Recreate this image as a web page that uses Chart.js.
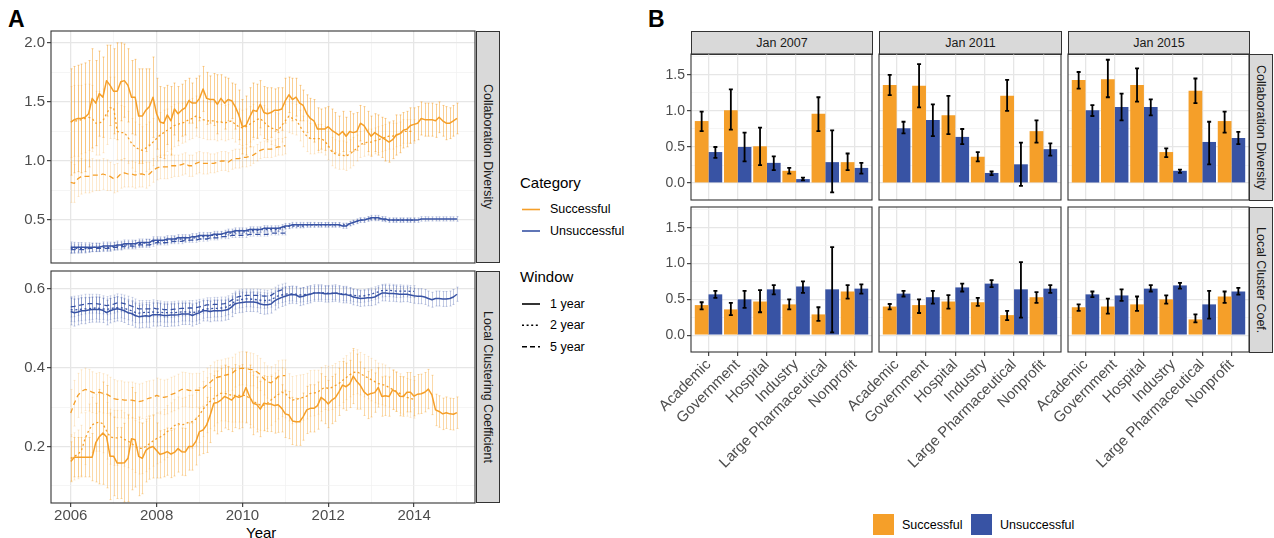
<!DOCTYPE html>
<html><head><meta charset="utf-8">
<script src="https://cdn.jsdelivr.net/npm/chart.js@4.4.1/dist/chart.umd.min.js"></script>
<style>
html,body{margin:0;padding:0;background:#fff;}
#wrap{position:relative;width:1274px;height:538px;overflow:hidden;font-family:'Liberation Sans',Arial,Helvetica,sans-serif;}
#wrap canvas{position:absolute;}
.strip{position:absolute;background:#D9D9D9;border:1px solid #333;box-sizing:border-box;color:#1A1A1A;font-size:12.5px;display:flex;align-items:center;justify-content:center;white-space:nowrap;}
.vt{writing-mode:vertical-rl;}
.t{position:absolute;white-space:nowrap;line-height:1;}
.sq{position:absolute;width:21px;height:21px;}
</style></head>
<body><div id="wrap">
<div class="t" style="left:8px;top:8px;font-size:23px;font-weight:bold;color:#000">A</div>
<div class="t" style="left:648px;top:8px;font-size:23px;font-weight:bold;color:#000">B</div>
<div class="strip vt" style="left:476px;top:31px;width:24px;height:232px;">Collaboration Diversity</div>
<div class="strip vt" style="left:476px;top:271px;width:24px;height:232px;">Local Clustering Coefficient</div>
<div class="t" style="left:246px;top:525px;font-size:15px;color:#000">Year</div>
<div class="t" style="left:520px;top:175px;font-size:15px;color:#000">Category</div>
<svg style="position:absolute;left:520px;top:200px" width="24" height="40"><line x1="2" y1="9.5" x2="20" y2="9.5" stroke="#F59F29" stroke-width="1.6"/><line x1="2" y1="31" x2="20" y2="31" stroke="#3853A4" stroke-width="1.6"/></svg>
<div class="t" style="left:550px;top:203px;font-size:12.5px;color:#000">Successful</div>
<div class="t" style="left:550px;top:224.5px;font-size:12.5px;color:#000">Unsuccessful</div>
<div class="t" style="left:520px;top:269px;font-size:15px;color:#000">Window</div>
<svg style="position:absolute;left:520px;top:295px" width="24" height="60"><line x1="2" y1="9" x2="20" y2="9" stroke="#000" stroke-width="1.6"/><line x1="2" y1="30.3" x2="20" y2="30.3" stroke="#000" stroke-width="1.4" stroke-dasharray="2 2.6"/><line x1="2" y1="51.7" x2="20" y2="51.7" stroke="#000" stroke-width="1.4" stroke-dasharray="5 3"/></svg>
<div class="t" style="left:550px;top:297.5px;font-size:12.5px;color:#000">1 year</div>
<div class="t" style="left:550px;top:319px;font-size:12.5px;color:#000">2 year</div>
<div class="t" style="left:550px;top:340.5px;font-size:12.5px;color:#000">5 year</div>
<div class="strip" style="left:691px;top:31px;width:182px;height:24px;">Jan 2007</div>
<div class="strip" style="left:879px;top:31px;width:183px;height:24px;">Jan 2011</div>
<div class="strip" style="left:1068px;top:31px;width:182px;height:24px;">Jan 2015</div>
<div class="strip vt" style="left:1249px;top:54px;width:24px;height:147px;">Collaboration Diversity</div>
<div class="strip vt" style="left:1249px;top:207px;width:24px;height:146px;">Local Cluster Coef.</div>
<div class="sq" style="left:873px;top:514px;background:#F59F29"></div>
<div class="t" style="left:902px;top:518.5px;font-size:12.5px;color:#000">Successful</div>
<div class="sq" style="left:971px;top:514px;background:#3853A4"></div>
<div class="t" style="left:1000px;top:518.5px;font-size:12.5px;color:#000">Unsuccessful</div>
</div>
<script>
// ---------- Panel A data (monthly, starting Jan 2006) ----------
const startYear = 2006;
const cdSucc1 = [1.33,1.35,1.36,1.36,1.37,1.40,1.53,1.49,1.57,1.54,1.68,1.64,
1.59,1.59,1.67,1.68,1.64,1.54,1.54,1.38,1.38,1.43,1.46,1.54,
1.40,1.33,1.32,1.39,1.34,1.44,1.40,1.43,1.45,1.51,1.49,1.49,
1.53,1.61,1.53,1.52,1.52,1.48,1.53,1.49,1.52,1.51,1.46,1.39,
1.29,1.30,1.37,1.43,1.42,1.48,1.41,1.40,1.41,1.43,1.43,1.44,
1.51,1.56,1.52,1.54,1.49,1.47,1.40,1.36,1.34,1.27,1.27,1.27,
1.29,1.26,1.24,1.22,1.25,1.21,1.25,1.24,1.25,1.32,1.30,1.25,
1.21,1.24,1.22,1.20,1.18,1.16,1.18,1.22,1.23,1.26,1.27,1.30,
1.31,1.32,1.36,1.35,1.35,1.35,1.34,1.37,1.34,1.32,1.32,1.34,1.36];
const cdSucc2 = [1.33,1.34,1.34,1.35,1.36,1.37,1.36,1.32,1.32,1.34,1.40,1.45,
1.45,1.25,1.24,1.24,1.20,1.15,1.12,1.10,1.09,1.11,1.13,1.16,
1.19,1.22,1.24,1.26,1.28,1.30,1.31,1.32,1.33,1.35,1.36,1.38,
1.37,1.35,1.34,1.34,1.34,1.33,1.33,1.32,1.33,1.34,1.31,1.29,
1.28,1.29,1.31,1.33,1.35,1.36,1.33,1.30,1.28,1.27,1.26,1.30,
1.34,1.38,1.36,1.35,1.30,1.25,1.21,1.19,1.19,1.19,1.19,1.17,
1.13,1.08,1.06,1.05,1.05,1.04,1.06,1.08,1.11,1.14,1.15,1.16,
1.16,1.17,1.18,1.19,1.20,1.21,1.21,1.22,1.23,1.25,1.25,1.25,1.25];
const cdSucc5 = [0.82,0.81,0.85,0.87,0.87,0.87,0.88,0.88,0.88,0.89,0.88,0.87,
0.85,0.86,0.89,0.90,0.89,0.89,0.88,0.89,0.89,0.88,0.89,0.92,
0.94,0.95,0.95,0.95,0.96,0.96,0.96,0.97,0.98,0.96,0.96,0.98,
0.99,0.98,0.98,0.98,0.98,0.99,1.00,1.00,0.99,1.01,1.02,1.02,
1.03,1.03,1.04,1.05,1.07,1.09,1.10,1.10,1.10,1.11,1.12,1.12,1.13];
const cdUns1 = [0.27,0.27,0.27,0.27,0.27,0.27,0.27,0.27,0.27,0.28,0.28,0.28,
0.28,0.29,0.29,0.30,0.30,0.30,0.30,0.31,0.31,0.31,0.31,0.33,
0.33,0.33,0.33,0.34,0.34,0.34,0.35,0.35,0.35,0.35,0.36,0.36,
0.37,0.37,0.37,0.37,0.38,0.38,0.38,0.39,0.40,0.40,0.41,0.41,
0.41,0.41,0.42,0.42,0.42,0.42,0.43,0.43,0.43,0.43,0.43,0.44,
0.45,0.45,0.46,0.46,0.46,0.46,0.46,0.46,0.46,0.46,0.46,0.46,
0.46,0.46,0.46,0.46,0.45,0.45,0.47,0.48,0.49,0.50,0.50,0.51,
0.52,0.52,0.52,0.51,0.51,0.50,0.50,0.50,0.50,0.50,0.50,0.50,
0.50,0.50,0.51,0.51,0.51,0.51,0.51,0.51,0.51,0.51,0.51,0.51,0.51];
const cdUns2 = [0.26,0.26,0.26,0.26,0.26,0.26,0.27,0.27,0.27,0.27,0.27,0.27,
0.28,0.28,0.28,0.29,0.29,0.29,0.30,0.30,0.30,0.31,0.31,0.32,
0.32,0.32,0.33,0.33,0.33,0.34,0.34,0.34,0.34,0.35,0.35,0.35,
0.36,0.36,0.36,0.37,0.37,0.37,0.38,0.38,0.39,0.39,0.40,0.40,
0.40,0.40,0.41,0.41,0.41,0.42,0.42,0.42,0.42,0.42,0.42,0.43,
0.44,0.45,0.45,0.45,0.45,0.45,0.46,0.46,0.46,0.46,0.46,0.46,
0.46,0.46,0.46,0.46,0.46,0.46,0.47,0.48,0.49,0.50,0.50,0.51,
0.51,0.51,0.51,0.51,0.50,0.50,0.50,0.50,0.50,0.50,0.50,0.50,0.50];
const cdUns5 = [0.25,0.25,0.25,0.25,0.25,0.26,0.26,0.26,0.26,0.26,0.26,0.26,
0.27,0.27,0.27,0.28,0.28,0.28,0.28,0.29,0.29,0.29,0.29,0.30,
0.31,0.31,0.31,0.31,0.32,0.32,0.32,0.32,0.33,0.33,0.33,0.33,
0.34,0.34,0.34,0.35,0.35,0.35,0.36,0.36,0.36,0.37,0.37,0.37,
0.37,0.37,0.38,0.38,0.38,0.38,0.38,0.38,0.39,0.39,0.39,0.39,0.39];

const cdSuccErr1 = [0.45,0.45,0.45,0.46,0.46,0.45,0.42,0.36,0.36,0.34,0.30,0.34,
0.36,0.41,0.33,0.31,0.31,0.31,0.32,0.40,0.40,0.35,0.32,0.34,
0.30,0.30,0.30,0.25,0.29,0.22,0.23,0.22,0.23,0.19,0.17,0.21,
0.19,0.19,0.22,0.20,0.22,0.25,0.20,0.22,0.18,0.15,0.19,0.21,
0.23,0.25,0.25,0.23,0.23,0.20,0.22,0.22,0.21,0.18,0.19,0.18,
0.19,0.15,0.18,0.16,0.15,0.13,0.16,0.17,0.18,0.18,0.17,0.18,
0.17,0.18,0.17,0.16,0.17,0.16,0.17,0.16,0.16,0.15,0.16,0.17,
0.17,0.16,0.17,0.17,0.18,0.17,0.16,0.17,0.16,0.15,0.15,0.15,
0.14,0.14,0.14,0.14,0.14,0.14,0.14,0.13,0.13,0.14,0.13,0.13,0.13];
const cdSuccErr2 = [0.30,0.30,0.30,0.29,0.29,0.28,0.28,0.27,0.27,0.27,0.26,0.26,
0.26,0.24,0.23,0.22,0.22,0.21,0.21,0.21,0.20,0.20,0.20,0.20,
0.19,0.19,0.19,0.18,0.18,0.18,0.18,0.17,0.17,0.17,0.17,0.17,
0.17,0.16,0.16,0.16,0.16,0.16,0.15,0.15,0.15,0.15,0.15,0.15,
0.15,0.15,0.15,0.15,0.15,0.14,0.14,0.14,0.14,0.14,0.14,0.14,
0.14,0.14,0.13,0.13,0.13,0.13,0.13,0.13,0.13,0.12,0.12,0.12,
0.12,0.12,0.12,0.12,0.12,0.12,0.12,0.12,0.11,0.11,0.11,0.11,
0.11,0.11,0.11,0.11,0.11,0.11,0.11,0.10,0.10,0.10,0.10,0.10,0.10];
const cdSuccErr5 = [0.17,0.16,0.15,0.15,0.14,0.14,0.14,0.13,0.13,0.13,0.13,0.12,
0.12,0.12,0.12,0.12,0.11,0.11,0.11,0.11,0.11,0.11,0.10,0.10,
0.10,0.10,0.10,0.10,0.10,0.09,0.09,0.09,0.09,0.09,0.09,0.09,
0.09,0.09,0.09,0.08,0.08,0.08,0.08,0.08,0.08,0.08,0.08,0.08,
0.08,0.08,0.08,0.07,0.07,0.07,0.07,0.07,0.07,0.07,0.07,0.07,0.07];
const cdUnsErr1 = [0.045,0.042,0.040,0.040,0.038,0.038,0.036,0.036,0.035,0.035,0.034,0.034,
0.033,0.033,0.032,0.032,0.031,0.031,0.030,0.030,0.030,0.030,0.029,0.029,
0.029,0.028,0.028,0.028,0.028,0.027,0.027,0.027,0.027,0.026,0.026,0.026,
0.026,0.026,0.025,0.025,0.025,0.025,0.025,0.024,0.024,0.024,0.024,0.024,
0.024,0.023,0.023,0.023,0.023,0.023,0.023,0.022,0.022,0.022,0.022,0.022,
0.022,0.022,0.021,0.021,0.021,0.021,0.021,0.021,0.021,0.020,0.020,0.020,
0.020,0.020,0.020,0.020,0.020,0.020,0.020,0.020,0.020,0.020,0.020,0.020,
0.020,0.020,0.020,0.020,0.019,0.019,0.019,0.019,0.019,0.019,0.019,0.019,
0.019,0.019,0.019,0.019,0.018,0.018,0.018,0.018,0.018,0.018,0.018,0.018,0.020];
const cdUnsErr2 = [0.040,0.038,0.037,0.036,0.035,0.034,0.033,0.033,0.032,0.032,0.031,0.031,
0.030,0.030,0.029,0.029,0.028,0.028,0.027,0.027,0.027,0.026,0.026,0.026,
0.025,0.025,0.025,0.024,0.024,0.024,0.024,0.023,0.023,0.023,0.023,0.022,
0.022,0.022,0.022,0.022,0.021,0.021,0.021,0.021,0.021,0.020,0.020,0.020,
0.020,0.020,0.020,0.019,0.019,0.019,0.019,0.019,0.019,0.018,0.018,0.018,
0.018,0.018,0.018,0.018,0.017,0.017,0.017,0.017,0.017,0.017,0.017,0.017,
0.017,0.016,0.016,0.016,0.016,0.016,0.016,0.016,0.016,0.016,0.016,0.016,
0.016,0.016,0.015,0.015,0.015,0.015,0.015,0.015,0.015,0.015,0.015,0.015,0.015];
const cdUnsErr5 = [0.032,0.031,0.030,0.029,0.029,0.028,0.028,0.027,0.027,0.026,0.026,0.025,
0.025,0.025,0.024,0.024,0.024,0.023,0.023,0.023,0.022,0.022,0.022,0.022,
0.021,0.021,0.021,0.021,0.020,0.020,0.020,0.020,0.020,0.019,0.019,0.019,
0.019,0.019,0.018,0.018,0.018,0.018,0.018,0.018,0.017,0.017,0.017,0.017,
0.017,0.017,0.017,0.016,0.016,0.016,0.016,0.016,0.016,0.016,0.016,0.016,0.016];

const lcSucc1 = [0.162,0.173,0.173,0.173,0.173,0.173,0.173,0.210,0.225,0.234,0.225,0.175,
0.175,0.158,0.158,0.159,0.170,0.220,0.217,0.175,0.170,0.190,0.197,0.200,
0.190,0.180,0.183,0.187,0.181,0.185,0.195,0.187,0.186,0.200,0.200,0.213,
0.238,0.242,0.255,0.280,0.310,0.312,0.318,0.327,0.323,0.318,0.328,0.325,
0.328,0.350,0.327,0.310,0.307,0.295,0.310,0.308,0.308,0.304,0.306,0.297,
0.283,0.280,0.265,0.263,0.263,0.276,0.293,0.297,0.297,0.304,0.325,0.318,
0.308,0.318,0.324,0.339,0.356,0.352,0.359,0.379,0.365,0.355,0.339,0.331,
0.335,0.337,0.350,0.327,0.329,0.327,0.344,0.339,0.328,0.327,0.338,0.338,
0.328,0.333,0.334,0.338,0.346,0.331,0.293,0.289,0.283,0.286,0.283,0.282,0.286];
const lcSucc2 = [0.170,0.175,0.180,0.190,0.220,0.240,0.255,0.260,0.262,0.258,0.240,0.225,
0.222,0.222,0.224,0.218,0.214,0.208,0.200,0.196,0.195,0.200,0.207,0.214,
0.220,0.224,0.230,0.238,0.245,0.253,0.258,0.255,0.257,0.262,0.263,0.270,
0.280,0.295,0.305,0.315,0.322,0.330,0.335,0.335,0.333,0.330,0.330,0.330,
0.330,0.330,0.322,0.315,0.310,0.305,0.305,0.310,0.318,0.325,0.332,0.338,
0.335,0.325,0.318,0.320,0.322,0.325,0.328,0.335,0.336,0.338,0.345,0.350,
0.348,0.350,0.355,0.360,0.368,0.375,0.382,0.388,0.390,0.385,0.380,0.375,
0.370,0.365,0.360,0.358,0.355,0.350,0.345,0.340,0.335,0.330,0.325,0.322,0.320];
const lcSucc5 = [0.285,0.310,0.330,0.340,0.345,0.343,0.338,0.335,0.338,0.335,0.333,0.328,
0.322,0.320,0.320,0.318,0.318,0.318,0.316,0.314,0.316,0.320,0.323,0.325,
0.330,0.327,0.325,0.327,0.332,0.335,0.340,0.345,0.345,0.343,0.342,0.343,
0.343,0.348,0.356,0.363,0.372,0.376,0.378,0.381,0.383,0.385,0.393,0.398,
0.399,0.398,0.396,0.395,0.390,0.383,0.372,0.364,0.362,0.368,0.378,0.380,0.380];
const lcUns1 = [0.543,0.540,0.542,0.545,0.545,0.547,0.548,0.548,0.548,0.546,0.540,0.545,
0.548,0.550,0.548,0.545,0.540,0.538,0.533,0.530,0.531,0.532,0.531,0.535,
0.535,0.535,0.533,0.533,0.534,0.534,0.535,0.537,0.537,0.537,0.533,0.537,
0.540,0.545,0.545,0.543,0.545,0.545,0.545,0.546,0.548,0.555,0.563,0.565,
0.566,0.567,0.567,0.567,0.566,0.562,0.560,0.560,0.562,0.570,0.575,0.579,
0.582,0.585,0.586,0.585,0.580,0.582,0.585,0.587,0.590,0.590,0.590,0.588,
0.588,0.589,0.590,0.588,0.586,0.586,0.584,0.580,0.578,0.576,0.577,0.578,
0.578,0.580,0.585,0.590,0.590,0.589,0.589,0.588,0.587,0.587,0.587,0.585,
0.583,0.582,0.582,0.580,0.576,0.573,0.576,0.576,0.575,0.575,0.576,0.580,0.587];
const lcUns2 = [0.548,0.547,0.548,0.549,0.550,0.550,0.551,0.552,0.551,0.550,0.548,0.550,
0.552,0.553,0.553,0.551,0.548,0.545,0.541,0.539,0.540,0.541,0.541,0.542,
0.541,0.541,0.540,0.540,0.540,0.540,0.541,0.542,0.542,0.542,0.540,0.542,
0.545,0.548,0.550,0.550,0.551,0.551,0.552,0.553,0.556,0.562,0.570,0.573,
0.574,0.575,0.575,0.574,0.573,0.572,0.571,0.571,0.573,0.578,0.583,0.585,
0.587,0.588,0.588,0.587,0.585,0.586,0.587,0.588,0.590,0.591,0.591,0.590,
0.590,0.590,0.590,0.589,0.588,0.587,0.586,0.584,0.583,0.582,0.583,0.585,
0.587,0.590,0.593,0.596,0.597,0.597,0.596,0.595,0.595,0.595,0.595,0.594,0.594];
const lcUns5 = [0.555,0.556,0.558,0.560,0.562,0.563,0.563,0.563,0.562,0.560,0.558,0.560,
0.562,0.565,0.565,0.563,0.560,0.557,0.553,0.550,0.550,0.550,0.550,0.552,
0.550,0.550,0.548,0.548,0.548,0.549,0.550,0.551,0.551,0.552,0.552,0.553,
0.555,0.557,0.560,0.560,0.561,0.561,0.562,0.563,0.566,0.572,0.578,0.581,
0.583,0.584,0.584,0.584,0.584,0.583,0.582,0.582,0.584,0.590,0.595,0.598,0.600];

const lcSuccErr1 = [0.05,0.05,0.05,0.05,0.05,0.05,0.06,0.10,0.12,0.13,0.13,0.11,
0.10,0.09,0.09,0.10,0.11,0.13,0.12,0.10,0.09,0.08,0.08,0.08,
0.07,0.06,0.06,0.06,0.06,0.06,0.06,0.06,0.06,0.06,0.06,0.06,
0.06,0.06,0.07,0.07,0.07,0.08,0.08,0.08,0.08,0.08,0.08,0.08,
0.08,0.09,0.08,0.08,0.07,0.07,0.07,0.07,0.07,0.07,0.07,0.06,
0.06,0.06,0.06,0.06,0.06,0.06,0.06,0.06,0.06,0.06,0.06,0.06,
0.06,0.06,0.06,0.06,0.06,0.06,0.06,0.07,0.07,0.06,0.06,0.06,
0.06,0.05,0.05,0.05,0.05,0.05,0.05,0.05,0.05,0.05,0.05,0.05,
0.05,0.05,0.05,0.05,0.05,0.05,0.04,0.04,0.04,0.04,0.04,0.04,0.04];
const lcSuccErr2 = [0.060,0.060,0.062,0.064,0.066,0.068,0.070,0.072,0.074,0.074,0.072,0.070,
0.070,0.070,0.068,0.068,0.068,0.066,0.066,0.066,0.064,0.064,0.064,0.064,
0.064,0.064,0.064,0.066,0.066,0.066,0.068,0.068,0.068,0.068,0.068,0.068,
0.070,0.070,0.070,0.070,0.070,0.070,0.070,0.070,0.070,0.068,0.068,0.068,
0.068,0.068,0.066,0.066,0.066,0.064,0.064,0.064,0.064,0.062,0.062,0.062,
0.062,0.060,0.060,0.060,0.060,0.058,0.058,0.058,0.058,0.056,0.056,0.056,
0.056,0.056,0.056,0.056,0.056,0.056,0.056,0.056,0.056,0.054,0.054,0.054,
0.054,0.054,0.052,0.052,0.052,0.050,0.050,0.050,0.050,0.048,0.048,0.048,0.048];
const lcSuccErr5 = [0.060,0.058,0.056,0.055,0.054,0.053,0.052,0.051,0.050,0.050,0.049,0.048,
0.048,0.047,0.047,0.046,0.046,0.046,0.045,0.045,0.045,0.045,0.044,0.044,
0.044,0.044,0.044,0.044,0.044,0.044,0.044,0.044,0.043,0.043,0.043,0.043,
0.043,0.043,0.043,0.043,0.043,0.043,0.042,0.042,0.042,0.042,0.042,0.042,
0.042,0.042,0.042,0.041,0.041,0.041,0.041,0.041,0.041,0.040,0.040,0.040,0.040];
const lcUnsErr1 = [0.034,0.034,0.033,0.033,0.033,0.032,0.032,0.032,0.032,0.031,0.031,0.031,
0.031,0.031,0.030,0.030,0.030,0.030,0.030,0.029,0.029,0.029,0.029,0.029,
0.029,0.028,0.028,0.028,0.028,0.028,0.028,0.027,0.027,0.027,0.027,0.027,
0.027,0.026,0.026,0.026,0.026,0.026,0.026,0.025,0.025,0.025,0.025,0.025,
0.025,0.024,0.024,0.024,0.024,0.024,0.024,0.023,0.023,0.023,0.023,0.023,
0.023,0.022,0.022,0.022,0.022,0.022,0.022,0.022,0.021,0.021,0.021,0.021,
0.021,0.021,0.021,0.021,0.021,0.021,0.020,0.020,0.020,0.020,0.020,0.020,
0.020,0.020,0.020,0.020,0.020,0.020,0.020,0.020,0.020,0.019,0.019,0.019,
0.019,0.019,0.019,0.019,0.019,0.019,0.019,0.019,0.019,0.019,0.019,0.019,0.018];
const lcUnsErr2 = [0.030,0.030,0.029,0.029,0.029,0.028,0.028,0.028,0.028,0.027,0.027,0.027,
0.027,0.027,0.026,0.026,0.026,0.026,0.026,0.025,0.025,0.025,0.025,0.025,
0.025,0.024,0.024,0.024,0.024,0.024,0.024,0.023,0.023,0.023,0.023,0.023,
0.023,0.022,0.022,0.022,0.022,0.022,0.022,0.021,0.021,0.021,0.021,0.021,
0.021,0.020,0.020,0.020,0.020,0.020,0.020,0.019,0.019,0.019,0.019,0.019,
0.019,0.018,0.018,0.018,0.018,0.018,0.018,0.018,0.017,0.017,0.017,0.017,
0.017,0.017,0.017,0.017,0.017,0.017,0.016,0.016,0.016,0.016,0.016,0.016,
0.016,0.016,0.016,0.016,0.016,0.016,0.016,0.016,0.016,0.015,0.015,0.015,0.015];
const lcUnsErr5 = [0.026,0.026,0.025,0.025,0.025,0.024,0.024,0.024,0.024,0.023,0.023,0.023,
0.023,0.023,0.022,0.022,0.022,0.022,0.022,0.021,0.021,0.021,0.021,0.021,
0.021,0.020,0.020,0.020,0.020,0.020,0.020,0.019,0.019,0.019,0.019,0.019,
0.019,0.018,0.018,0.018,0.018,0.018,0.018,0.017,0.017,0.017,0.017,0.017,
0.017,0.016,0.016,0.016,0.016,0.016,0.016,0.015,0.015,0.015,0.015,0.015,0.015];

const aYearTicks = [2006,2007,2008,2009,2010,2011,2012,2013,2014,2015];
const aYearLabels = [2006,2008,2010,2012,2014];
const aCdTicks = [0.25,0.5,0.75,1.0,1.25,1.5,1.75,2.0];
const aCdLabels = [0.5,1.0,1.5,2.0];
const aLcTicks = [0.1,0.2,0.3,0.4,0.5,0.6];
const aLcLabels = [0.2,0.4,0.6];

// ---------- Panel B data ----------
const bCats = ['Academic','Government','Hospital','Industry','Large Pharmaceutical','Nonprofit'];
const bTicks = [0.0,0.25,0.5,0.75,1.0,1.25,1.5,1.75];
const bLabels = [0.0,0.5,1.0,1.5];
const bPeriods = ['Jan 2007','Jan 2011','Jan 2015'];

const cd07S = [0.86,1.01,0.51,0.17,0.96,0.29], cd07SLo = [0.72,0.74,0.25,0.13,0.72,0.18], cd07SHi = [0.99,1.30,0.77,0.21,1.19,0.41];
const cd07U = [0.43,0.50,0.28,0.055,0.29,0.21], cd07ULo = [0.35,0.30,0.18,0.037,-0.13,0.13], cd07UHi = [0.50,0.70,0.37,0.074,0.73,0.28];
const cd11S = [1.36,1.35,0.94,0.365,1.21,0.72], cd11SLo = [1.22,1.05,0.68,0.30,1.00,0.56], cd11SHi = [1.50,1.65,1.21,0.43,1.43,0.87];
const cd11U = [0.76,0.875,0.64,0.14,0.26,0.47], cd11ULo = [0.69,0.65,0.54,0.11,-0.04,0.38], cd11UHi = [0.85,1.09,0.75,0.16,0.56,0.55];
const cd15S = [1.43,1.44,1.36,0.43,1.28,0.86], cd15SLo = [1.31,1.19,1.13,0.36,1.11,0.70], cd15SHi = [1.54,1.71,1.59,0.48,1.45,0.99];
const cd15U = [1.01,1.055,1.055,0.17,0.57,0.625], cd15ULo = [0.93,0.87,0.94,0.14,0.26,0.54], cd15UHi = [1.08,1.24,1.16,0.185,0.85,0.71];

const lc07S = [0.42,0.36,0.47,0.43,0.29,0.61], lc07SLo = [0.36,0.28,0.32,0.36,0.20,0.51], lc07SHi = [0.46,0.45,0.63,0.50,0.39,0.70];
const lc07U = [0.57,0.50,0.64,0.68,0.64,0.65], lc07ULo = [0.52,0.38,0.57,0.59,0.04,0.58], lc07UHi = [0.62,0.62,0.70,0.75,1.23,0.71];
const lc11S = [0.40,0.42,0.47,0.46,0.28,0.53], lc11SLo = [0.36,0.31,0.37,0.41,0.21,0.45], lc11SHi = [0.435,0.50,0.56,0.52,0.34,0.60];
const lc11U = [0.58,0.53,0.667,0.72,0.64,0.65], lc11ULo = [0.54,0.44,0.61,0.67,0.245,0.59], lc11UHi = [0.62,0.62,0.72,0.77,1.02,0.70];
const lc15S = [0.39,0.40,0.43,0.50,0.22,0.54], lc15SLo = [0.34,0.30,0.34,0.44,0.18,0.45], lc15SHi = [0.43,0.51,0.54,0.555,0.29,0.61];
const lc15U = [0.57,0.555,0.65,0.695,0.43,0.61], lc15ULo = [0.53,0.48,0.61,0.65,0.23,0.565], lc15UHi = [0.61,0.64,0.70,0.73,0.62,0.66];

// ---------- styling ----------
const ORANGE = '#F59F29', BLUE = '#3853A4';
const ORANGE_RGB = '245,159,41', BLUE_RGB = '56,83,164';
Chart.defaults.font.family = "'Liberation Sans', Arial, Helvetica, sans-serif";

function mkCanvas(l, t, w, h) {
  const c = document.createElement('canvas');
  c.width = w; c.height = h;
  c.style.left = l + 'px'; c.style.top = t + 'px';
  c.style.width = w + 'px'; c.style.height = h + 'px';
  document.getElementById('wrap').appendChild(c);
  return c;
}

const framePlugin = {
  id: 'frame',
  afterDraw(chart) {
    const a = chart.chartArea, ctx = chart.ctx;
    ctx.save(); ctx.strokeStyle = '#333333'; ctx.lineWidth = 1.1;
    ctx.strokeRect(a.left, a.top, a.right - a.left, a.bottom - a.top);
    ctx.restore();
  }
};

const lineErrPlugin = {
  id: 'lineErr',
  beforeDatasetsDraw(chart) {
    const ctx = chart.ctx, xs = chart.scales.x, ys = chart.scales.y;
    ctx.save();
    chart.data.datasets.forEach(ds => {
      if (!ds.errHalf) return;
      ctx.strokeStyle = ds.errColor; ctx.lineWidth = 1;
      ds.data.forEach((p, i) => {
        const h = ds.errHalf[i];
        const px = Math.round(xs.getPixelForValue(p.x)) + 0.5;
        const y1 = ys.getPixelForValue(p.y - h), y2 = ys.getPixelForValue(p.y + h);
        ctx.beginPath();
        ctx.moveTo(px, y1); ctx.lineTo(px, y2);
        ctx.moveTo(px - 1, y1); ctx.lineTo(px + 1, y1);
        ctx.moveTo(px - 1, y2); ctx.lineTo(px + 1, y2);
        ctx.stroke();
      });
    });
    ctx.restore();
  }
};

const barErrPlugin = {
  id: 'barErr',
  afterDatasetsDraw(chart) {
    const ctx = chart.ctx, ys = chart.scales.y;
    ctx.save(); ctx.strokeStyle = '#000'; ctx.lineWidth = 1.8;
    chart.data.datasets.forEach((ds, di) => {
      const meta = chart.getDatasetMeta(di);
      meta.data.forEach((bar, i) => {
        const x = bar.x, yl = ys.getPixelForValue(ds.lo[i]), yh = ys.getPixelForValue(ds.hi[i]);
        ctx.beginPath();
        ctx.moveTo(x, yl); ctx.lineTo(x, yh);
        ctx.moveTo(x - 2, yl); ctx.lineTo(x + 2, yl);
        ctx.moveTo(x - 2, yh); ctx.lineTo(x + 2, yh);
        ctx.stroke();
      });
    });
    ctx.restore();
  }
};

function axisCfg(o, isX, size) {
  const isMajor = v => o.major.some(m => Math.abs(m - v) < 1e-9);
  return {
    type: 'linear', min: o.min, max: o.max, offset: false,
    afterBuildTicks: s => { s.ticks = o.ticks.map(v => ({ value: v })); },
    afterFit: s => {
      if (isX) s.height = size; else s.width = size;
      s.paddingLeft = 0; s.paddingRight = 0; s.paddingTop = 0; s.paddingBottom = 0;
    },
    border: { display: false },
    grid: {
      offset: false,
      color: c => (c.tick && isMajor(c.tick.value)) ? '#E6E6E6' : '#F0F0F0',
      lineWidth: c => (c.tick && isMajor(c.tick.value)) ? (o.majorW || 1.3) : 0.7,
      drawTicks: !!o.show, tickLength: 4, tickWidth: 1.1,
      tickColor: c => (c.tick && isMajor(c.tick.value)) ? '#333333' : 'rgba(0,0,0,0)'
    },
    ticks: {
      display: !!o.show, autoSkip: false, maxRotation: o.rot || 0, minRotation: o.rot || 0,
      padding: o.pad || 0, color: '#4D4D4D', font: { size: o.fs || 15 },
      callback: v => isMajor(v) ? o.fmt(v) : ''
    }
  };
}

function makeChart(can, plot, type, datasets, xo, yo, plugins) {
  const c = mkCanvas(can.l, can.t, can.w, can.h);
  const padT = plot.y0 - can.t, padR = can.l + can.w - plot.x1;
  const yW = plot.x0 - can.l, xH = can.t + can.h - plot.y1;
  return new Chart(c, {
    type: type,
    data: { datasets: datasets },
    options: {
      responsive: false, animation: false, events: [], devicePixelRatio: 1,
      layout: { padding: { top: padT, right: padR, left: 0, bottom: 0 } },
      plugins: { legend: { display: false }, tooltip: { enabled: false } },
      scales: { x: axisCfg(xo, true, xH), y: axisCfg(yo, false, yW) }
    },
    plugins: plugins
  });
}

function series(vals, errs, rgb, color, dash, width, alpha) {
  return {
    data: vals.map((v, i) => ({ x: startYear + i / 12, y: v })),
    errHalf: errs, errColor: 'rgba(' + rgb + ',' + alpha + ')',
    borderColor: color, borderWidth: width, borderDash: dash, pointRadius: 0,
    tension: 0, fill: false, borderJoinStyle: 'round', borderCapStyle: 'butt'
  };
}

const DOT = [2, 2.6], DASH = [5, 3.5];
const yearX = { min: 2005.54, max: 2015.42, ticks: aYearTicks, major: aYearLabels, fmt: v => String(v), fs: 15, pad: 0 };

// Panel A top: Collaboration Diversity
makeChart({ l: 0, t: 26, w: 480, h: 240 }, { x0: 51, y0: 31, x1: 475, y1: 263 }, 'line', [
  series(cdSucc5, cdSuccErr5, ORANGE_RGB, ORANGE, DASH, 1.3, 0.22),
  series(cdSucc2, cdSuccErr2, ORANGE_RGB, ORANGE, DOT, 1.3, 0.22),
  series(cdSucc1, cdSuccErr1, ORANGE_RGB, ORANGE, [], 1.5, 0.5),
  series(cdUns5, cdUnsErr5, BLUE_RGB, BLUE, DASH, 1.3, 0.22),
  series(cdUns2, cdUnsErr2, BLUE_RGB, BLUE, DOT, 1.3, 0.22),
  series(cdUns1, cdUnsErr1, BLUE_RGB, BLUE, [], 1.5, 0.3)
], Object.assign({}, yearX, { show: false }),
  { min: 0.137, max: 2.10, ticks: aCdTicks, major: aCdLabels, fmt: v => v.toFixed(1), fs: 15, pad: 2, show: true },
  [lineErrPlugin, framePlugin]);

// Panel A bottom: Local Clustering Coefficient
makeChart({ l: 0, t: 266, w: 480, h: 270 }, { x0: 51, y0: 271, x1: 475, y1: 503 }, 'line', [
  series(lcSucc5, lcSuccErr5, ORANGE_RGB, ORANGE, DASH, 1.3, 0.2),
  series(lcSucc2, lcSuccErr2, ORANGE_RGB, ORANGE, DOT, 1.3, 0.2),
  series(lcSucc1, lcSuccErr1, ORANGE_RGB, ORANGE, [], 1.5, 0.4),
  series(lcUns5, lcUnsErr5, BLUE_RGB, BLUE, DASH, 1.3, 0.22),
  series(lcUns2, lcUnsErr2, BLUE_RGB, BLUE, DOT, 1.3, 0.22),
  series(lcUns1, lcUnsErr1, BLUE_RGB, BLUE, [], 1.5, 0.3)
], Object.assign({}, yearX, { show: true }),
  { min: 0.0565, max: 0.646, ticks: aLcTicks, major: aLcLabels, fmt: v => v.toFixed(1), fs: 15, pad: 2, show: true },
  [lineErrPlugin, framePlugin]);

// Panel B facets
function barSet(vals, lo, hi, color) {
  return {
    data: vals.map((v, i) => ({ x: i + 1, y: v })), lo: lo, hi: hi,
    backgroundColor: color, borderWidth: 0, categoryPercentage: 0.94, barPercentage: 1.0, grouped: true
  };
}
const catIdx = bCats.map((c, i) => i + 1);
const cols = [{ x0: 691, x1: 872 }, { x0: 879, x1: 1061 }, { x0: 1068, x1: 1249 }];
const rows = [{ y0: 54, y1: 200, t: 50, h: 153, showX: false }, { y0: 207, y1: 352, t: 203, h: 277, showX: true }];
const facetData = [
  [[cd07S, cd07SLo, cd07SHi, cd07U, cd07ULo, cd07UHi], [cd11S, cd11SLo, cd11SHi, cd11U, cd11ULo, cd11UHi], [cd15S, cd15SLo, cd15SHi, cd15U, cd15ULo, cd15UHi]],
  [[lc07S, lc07SLo, lc07SHi, lc07U, lc07ULo, lc07UHi], [lc11S, lc11SLo, lc11SHi, lc11U, lc11ULo, lc11UHi], [lc15S, lc15SLo, lc15SHi, lc15U, lc15ULo, lc15UHi]]
];
rows.forEach((r, ri) => {
  cols.forEach((col, ci) => {
    const d = facetData[ri][ci];
    const canL = ci === 0 ? 641 : col.x0 - 60;
    const can = { l: canL, t: r.t, w: col.x1 + 4 - canL, h: r.h };
    makeChart(can, { x0: col.x0, y0: r.y0, x1: col.x1, y1: r.y1 }, 'bar', [
      barSet(d[0], d[1], d[2], ORANGE),
      barSet(d[3], d[4], d[5], BLUE)
    ],
      { min: 0.4, max: 6.6, ticks: catIdx, major: catIdx, fmt: v => bCats[v - 1], fs: 15, pad: 0, rot: 45, show: r.showX, majorW: 1.3 },
      { min: -0.235, max: 1.79, ticks: bTicks, major: bLabels, fmt: v => v.toFixed(1), fs: 14, pad: 2, show: ci === 0 },
      [barErrPlugin, framePlugin]);
  });
});
</script>
</body></html>
